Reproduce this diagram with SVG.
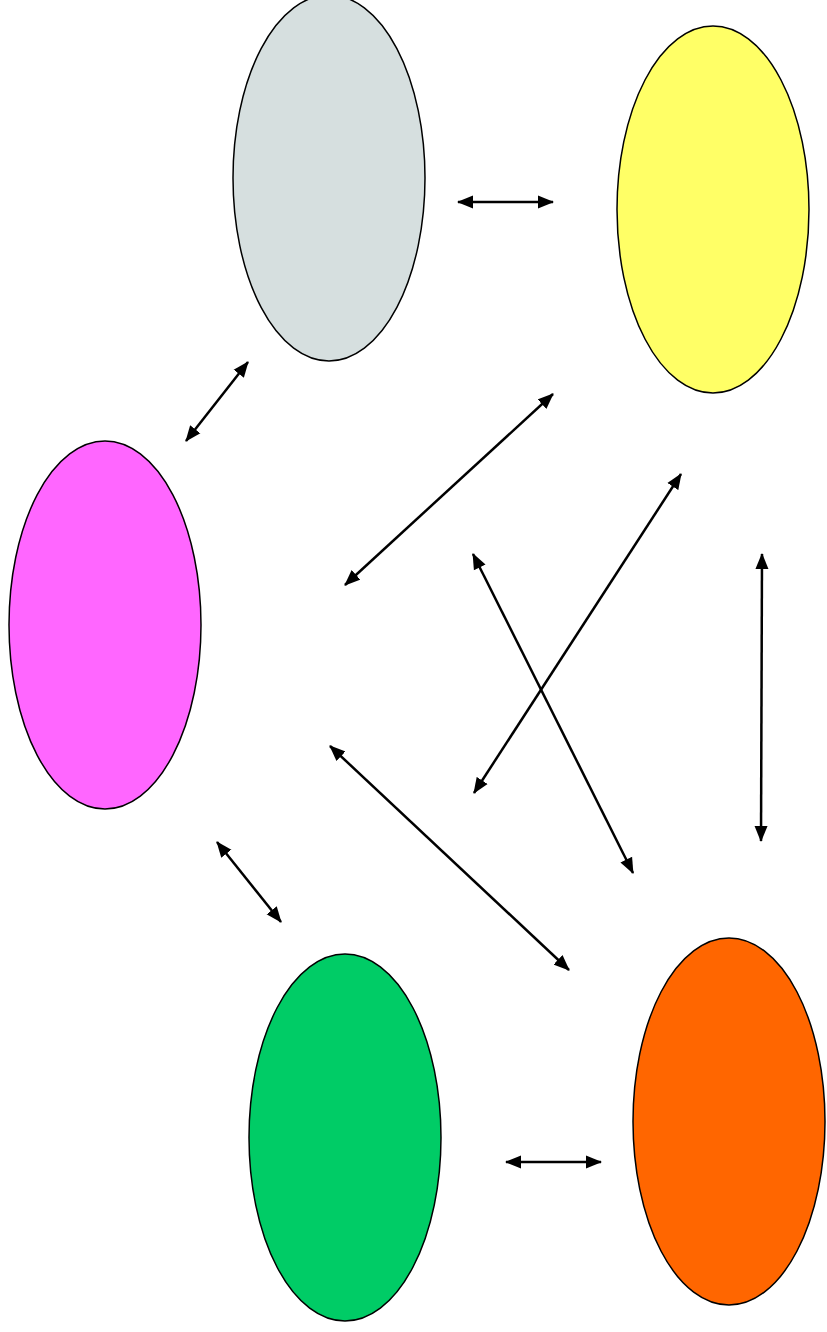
<svg xmlns="http://www.w3.org/2000/svg" width="827" height="1332" viewBox="0 0 827 1332">
<style>
.node{stroke:#000;stroke-width:1.5}
.conn line{stroke:#000;stroke-width:2.5;marker-start:url(#ah);marker-end:url(#ah)}
</style>
<defs>
<marker id="ah" markerUnits="userSpaceOnUse" markerWidth="17" markerHeight="14" refX="15" refY="6.5" orient="auto-start-reverse" viewBox="0 0 17 13">
<path d="M0,0 L16,6.5 L0,13 z" fill="#000"/>
</marker>
</defs>
<rect width="827" height="1332" fill="#fff"/>
<g id="n-grey"><ellipse class="node" cx="329" cy="178" rx="96" ry="183" fill="#d6dfdf"/></g>
<g id="n-yellow"><ellipse class="node" cx="713" cy="209.5" rx="96" ry="183.5" fill="#ffff66"/></g>
<g id="n-magenta"><ellipse class="node" cx="105" cy="625" rx="96" ry="184" fill="#ff66ff"/></g>
<g id="n-green"><ellipse class="node" cx="345" cy="1137.5" rx="96" ry="183.5" fill="#00cc66"/></g>
<g id="n-orange"><ellipse class="node" cx="729" cy="1121.5" rx="96" ry="183.5" fill="#ff6600"/></g>
<g id="connectors" class="conn">
<line x1="458" y1="202" x2="553" y2="202"/>
<line x1="186" y1="441" x2="248" y2="362"/>
<line x1="345" y1="585" x2="553" y2="394"/>
<line x1="474" y1="793" x2="681" y2="474"/>
<line x1="473" y1="554" x2="633" y2="873"/>
<line x1="762" y1="554" x2="761" y2="841"/>
<line x1="330" y1="746" x2="569" y2="970"/>
<line x1="217" y1="842" x2="281" y2="922"/>
<line x1="506" y1="1162" x2="601" y2="1162"/>
</g>
</svg>
